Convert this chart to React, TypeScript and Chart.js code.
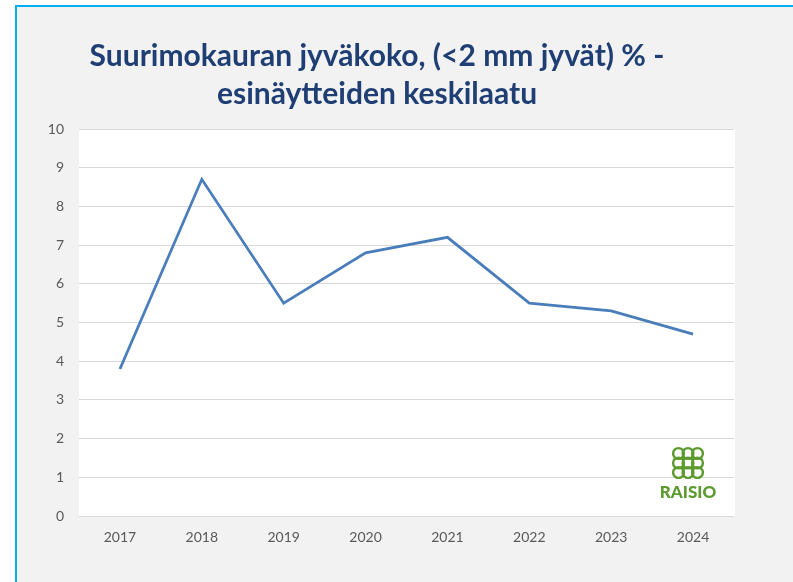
import React, { useEffect, useRef } from "react";
import { Chart, registerables } from "chart.js";

Chart.register(...registerables);

const years = ["2017", "2018", "2019", "2020", "2021", "2022", "2023", "2024"];
const grainShare = [3.8, 8.7, 5.5, 6.8, 7.2, 5.5, 5.3, 4.7];
const titleLines = ["Suurimokauran jyväkoko, (<2 mm jyvät) % -", "esinäytteiden keskilaatu"];
const logoText = "RAISIO";

const W = 793;
const H = 582;

const backgroundPlugin = {
  id: "bgPlugin",
  beforeDraw(chart: any) {
    const { ctx, chartArea } = chart;
    ctx.save();
    ctx.fillStyle = "#ffffff";
    ctx.fillRect(0, 0, W, H);
    ctx.fillStyle = "#f2f2f2";
    ctx.fillRect(17, 7, W - 17, H - 7);
    ctx.fillStyle = "#00b0f0";
    ctx.fillRect(15, 5, 2, H - 5);
    ctx.fillRect(15, 5, W - 15, 2);
    ctx.fillStyle = "#ffffff";
    ctx.fillRect(chartArea.left, chartArea.top, chartArea.right - chartArea.left + 1, chartArea.bottom - chartArea.top);
    ctx.restore();
  },
  afterDraw(chart: any) {
    const { ctx } = chart;
    ctx.save();
    ctx.fillStyle = "#1f3f74";
    ctx.font = "bold 30px Lato";
    ctx.textAlign = "center";
    ctx.textBaseline = "alphabetic";
    ctx.fillText(titleLines[0], 377, 66);
    ctx.fillText(titleLines[1], 377, 104);

    // logo
    const green = "#5a9a2e";
    ctx.strokeStyle = green;
    ctx.lineWidth = 2.4;
    const cx = 688;
    const cy = 463;
    const step = 9.5;
    const r = 5.4;
    for (let i = -1; i <= 1; i++) {
      for (let j = -1; j <= 1; j++) {
        ctx.beginPath();
        ctx.arc(cx + i * step, cy + j * step, r, 0, Math.PI * 2);
        ctx.stroke();
      }
    }
    ctx.fillStyle = green;
    ctx.font = "900 17px Lato";
    ctx.textAlign = "center";
    ctx.fillText(logoText, 688, 498);
    ctx.restore();
  },
};

export default function App() {
  const ref = useRef<HTMLCanvasElement | null>(null);

  useEffect(() => {
    if (!ref.current) return;
    const chart = new Chart(ref.current, {
      type: "line",
      data: {
        labels: years,
        datasets: [
          {
            data: grainShare,
            borderColor: "#4a7ebb",
            borderWidth: 2.8,
            pointRadius: 0,
            tension: 0,
            fill: false,
          },
        ],
      },
      options: {
        animation: false,
        responsive: false,
        layout: { padding: { top: 129, right: 59, left: 0, bottom: 0 } },
        plugins: {
          legend: { display: false },
          title: { display: false },
          tooltip: { enabled: false },
        },
        scales: {
          x: {
            offset: true,
            grid: { display: false, drawTicks: false },
            border: { display: false },
            ticks: {
              color: "#595959",
              font: { family: "Lato", size: 14 },
              padding: 13,
              maxRotation: 0,
            },
            afterFit: (s: any) => {
              s.height = 66;
            },
          },
          y: {
            min: 0,
            max: 10,
            grid: { color: "#d9d9d9", lineWidth: 1, drawTicks: false },
            border: { display: false },
            ticks: {
              stepSize: 1,
              color: "#595959",
              font: { family: "Lato", size: 14 },
              padding: 15,
            },
            afterFit: (s: any) => {
              s.width = 79;
            },
          },
        },
      },
      plugins: [backgroundPlugin],
    });
    return () => chart.destroy();
  }, []);

  return (
    <div style={{ position: "fixed", left: 0, top: 0, width: W, height: H }}>
      <canvas ref={ref} width={W} height={H} style={{ width: W, height: H, display: "block" }} />
    </div>
  );
}
